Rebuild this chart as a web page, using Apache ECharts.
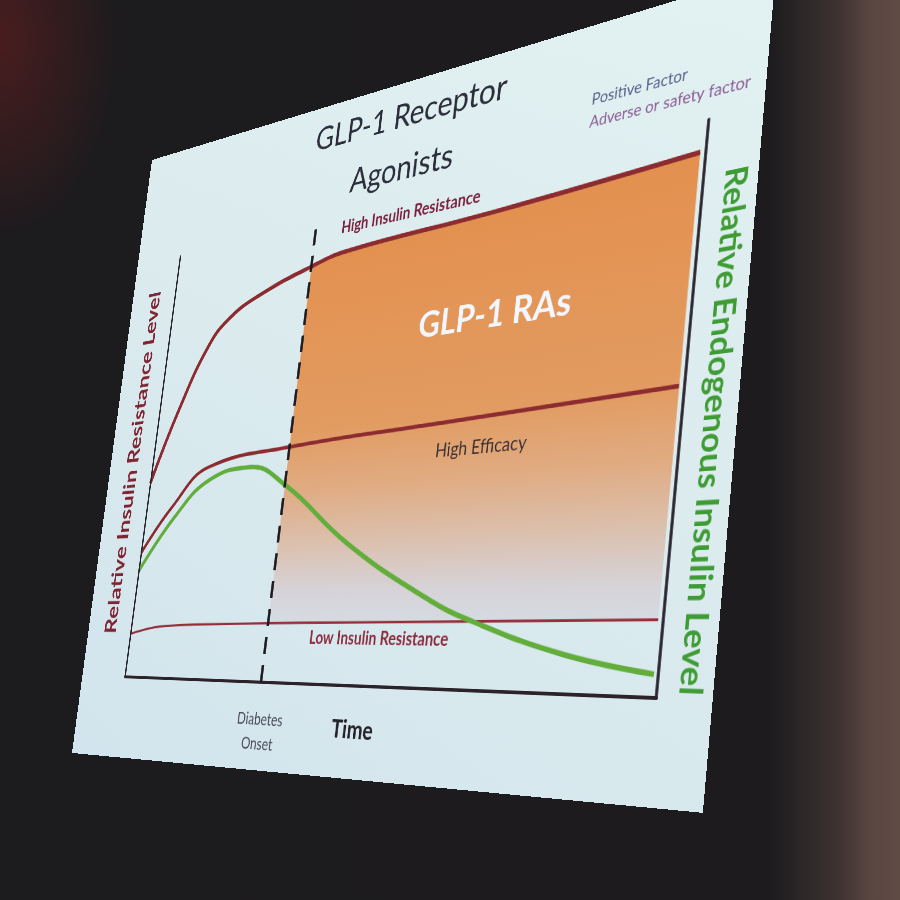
<!DOCTYPE html>
<html>
<head>
<meta charset="utf-8">
<script src="https://cdn.jsdelivr.net/npm/echarts@6/dist/echarts.min.js"></script>
<style>
html,body{margin:0;padding:0;width:900px;height:900px;overflow:hidden;background:#1c1b1e;}
#room{position:absolute;left:0;top:0;width:900px;height:900px;
  background:
   radial-gradient(ellipse 120px 200px at 0px 40px, rgba(110,30,30,0.55), rgba(0,0,0,0)),
   linear-gradient(to right, #1c1b1e 0px, #1d1b1e 770px, #2b2627 800px, #3f3331 840px, #5a4641 870px, #5f4a44 900px);}
#slide{position:absolute;left:0;top:0;width:1000px;height:880px;transform-origin:0 0;
  background:linear-gradient(205deg,#e2f1f1 0%,#dbebee 45%,#d2e4ed 100%);}
</style>
</head>
<body>
<div id="room"></div>
<div id="slide"></div>
<script>
// ---------- data (time 0-100, levels 0-100) ----------
const timeHigh     = [0, 5.0, 10.3, 14.4, 20.7, 31.9, 39.3, 67.2, 99.2];
const resistHigh   = [44.2, 61.1, 74.8, 80.2, 84.2, 88.4, 90.2, 91.7, 94.3];
const timeEff      = [0, 6.2, 14.1, 31.6, 62.4, 99.2];
const resistEff    = [28.1, 38.1, 46.7, 49.3, 51.0, 52.9];
const timeLow      = [0, 8.3, 31.9, 38.1, 99.3];
const resistLow    = [9.7, 11.5, 12.2, 12.3, 13.0];
const timeInsulin  = [0, 7.3, 14.5, 23.4, 32.0, 46.2, 62.1, 70.9, 85.9, 99.4];
const insulinLevel = [24.0, 36.0, 43.7, 45.8, 41.2, 28.3, 17.2, 12.6, 6.9, 3.9];
const diabetesOnset = 31.9;
const onsetLineTop  = 97.9;
const leftAxisTop   = 98;

// ---------- slide geometry (photo perspective) ----------
const W = 1000, H = 880;
const corners = [[152,160],[776,-30],[703,813],[72,753]]; // TL, TR, BR, BL on the page
function projective(W, H, q){
  const [x0,y0]=q[0],[x1,y1]=q[1],[x2,y2]=q[2],[x3,y3]=q[3];
  const dx1=x1-x2, dx2=x3-x2, dx3=x0-x1+x2-x3;
  const dy1=y1-y2, dy2=y3-y2, dy3=y0-y1+y2-y3;
  const den=dx1*dy2-dx2*dy1;
  const g=(dx3*dy2-dx2*dy3)/den, h=(dx1*dy3-dx3*dy1)/den;
  const a=x1-x0+g*x1, b=x3-x0+h*x3, c=x0;
  const d=y1-y0+g*y1, e=y3-y0+h*y3, f=y0;
  return 'matrix3d('+[a/W,d/W,0,g/W, b/H,e/H,0,h/H, 0,0,1,0, c,f,0,1].join(',')+')';
}
const slide = document.getElementById('slide');
slide.style.transform = projective(W, H, corners);

const pairs = (xs, ys) => xs.map((x,i)=>[x, ys[i]]);
const maroon = '#8c2b30';
const FONT = 'Lato, "Open Sans", sans-serif';

const chart = echarts.init(slide, null, {renderer:'canvas', width:W, height:H});
const option = {
  backgroundColor: 'transparent',
  animation: false,
  title: {
    text: 'GLP-1 Receptor\nAgonists',
    left: 'center', top: 10, padding: [0,0,0,28],
    textStyle: {fontFamily: FONT, fontSize: 45, fontWeight: 'normal', color: '#2b2d3b', lineHeight: 71}
  },
  grid: {left: 94, right: 54, top: 150, bottom: 111},
  xAxis: {
    type: 'value', min: 0, max: 100,
    name: 'Time', nameLocation: 'middle', nameGap: 38,
    nameTextStyle: {fontFamily: FONT, fontSize: 30, fontWeight: 'bold', color: '#222228', padding: [0,0,0,22]},
    axisLine: {show: true, lineStyle: {color: '#2b2329', width: 4}},
    axisTick: {show: false}, axisLabel: {show: false}, splitLine: {show: false}
  },
  yAxis: [
    {
      type: 'value', min: 0, max: 100,
      name: 'Relative Insulin Resistance Level', nameLocation: 'middle', nameGap: 27, nameRotate: 90,
      nameTextStyle: {fontFamily: FONT, fontSize: 35, fontWeight: 'bold', color: '#7f2431'},
      axisLine: {show: false}, axisTick: {show: false}, axisLabel: {show: false}, splitLine: {show: false}
    },
    {
      type: 'value', min: 0, max: 100, position: 'right',
      name: 'Relative Endogenous Insulin Level', nameLocation: 'middle', nameGap: 19, nameRotate: -90,
      nameTextStyle: {fontFamily: FONT, fontSize: 37, fontWeight: 'bold', color: '#3f9c34', padding: [0,0,0,56]},
      axisLine: {show: true, onZero: false, lineStyle: {color: '#2b2530', width: 3.5}},
      axisTick: {show: false}, axisLabel: {show: false}, splitLine: {show: false}
    }
  ],
  graphic: [
    {type:'text', x:782, y:92, style:{text:'Positive Factor', fill:'#56618c', font:'19px '+FONT, align:'left', verticalAlign:'middle'}},
    {type:'text', x:782, y:119, style:{text:'Adverse or safety factor', fill:'#8b5b96', font:'19px '+FONT, align:'left', verticalAlign:'middle'}},
    {type:'text', x:522, y:178, z:10, style:{text:'High Insulin Resistance', fill:'#7a1f3d', font:'bold 22px '+FONT, align:'center', verticalAlign:'middle'}},
    {type:'text', x:671, y:329, z:10, style:{text:'GLP-1 RAs', fill:'#f2f6ff', font:'bold 46px '+FONT, align:'center', verticalAlign:'middle'}},
    {type:'text', x:674, y:488, z:10, style:{text:'High Efficacy', fill:'#3a3034', font:'23px '+FONT, align:'center', verticalAlign:'middle'}},
    {type:'text', x:548, y:712, z:10, style:{text:'Low Insulin Resistance', fill:'#8b2d3d', font:'bold 22px '+FONT, align:'center', verticalAlign:'middle'}},
    {type:'text', x:368, y:832, z:10, style:{text:'Diabetes\nOnset', fill:'#484a58', font:'21px '+FONT, lineHeight:31, align:'center', verticalAlign:'middle'}}
  ],
  series: [
    {
      name: 'GLP-1 RAs', type: 'custom', z: 1, silent: true,
      data: [[diabetesOnset, resistHigh[timeHigh.indexOf(diabetesOnset)]]],
      renderItem: function(params, api){
        const top = [], low = [];
        timeHigh.forEach((t,i)=>{ if (t >= diabetesOnset) top.push(api.coord([t, resistHigh[i]])); });
        timeLow.forEach((t,i)=>{ if (t >= diabetesOnset) low.push(api.coord([t, resistLow[i]])); });
        return {
          type: 'polygon',
          shape: {points: top.concat(low.reverse())},
          style: {fill: new echarts.graphic.LinearGradient(0,0,0,1,[
            {offset:0, color:'#e3904f'},
            {offset:0.5, color:'#e29b60'},
            {offset:0.66, color:'#e0ab82'},
            {offset:0.8, color:'#dbc0ae'},
            {offset:0.92, color:'#d6d3d8'},
            {offset:1, color:'#d5dbe2'}
          ])}
        };
      }
    },
    {
      name: 'High Insulin Resistance', type: 'line', z: 3, smooth: 0.45, showSymbol: false,
      data: pairs(timeHigh, resistHigh), lineStyle: {color: maroon, width: 6}
    },
    {
      name: 'High Efficacy', type: 'line', z: 3, smooth: 0.45, showSymbol: false,
      data: pairs(timeEff, resistEff), lineStyle: {color: maroon, width: 5}
    },
    {
      name: 'Low Insulin Resistance', type: 'line', z: 3, smooth: 0.45, showSymbol: false,
      data: pairs(timeLow, resistLow), lineStyle: {color: '#942f3a', width: 3}
    },
    {
      name: 'Endogenous Insulin', type: 'line', yAxisIndex: 1, z: 4, smooth: 0.45, showSymbol: false,
      data: pairs(timeInsulin, insulinLevel), lineStyle: {color: '#62ad3c', width: 6}
    },
    {
      name: 'Axes and onset', type: 'line', z: 5, data: [],
      markLine: {
        silent: true, symbol: ['none','none'], label: {show: false}, animation: false,
        data: [
          [{coord:[diabetesOnset, 0], lineStyle:{type:[22,14], width:4.5, color:'#1e1a22'}},
           {coord:[diabetesOnset, onsetLineTop]}],
          [{coord:[0, 0], lineStyle:{type:'solid', width:3, color:'#2b2530'}},
           {coord:[0, leftAxisTop]}]
        ]
      }
    }
  ]
};
chart.setOption(option);
</script>
</body>
</html>
